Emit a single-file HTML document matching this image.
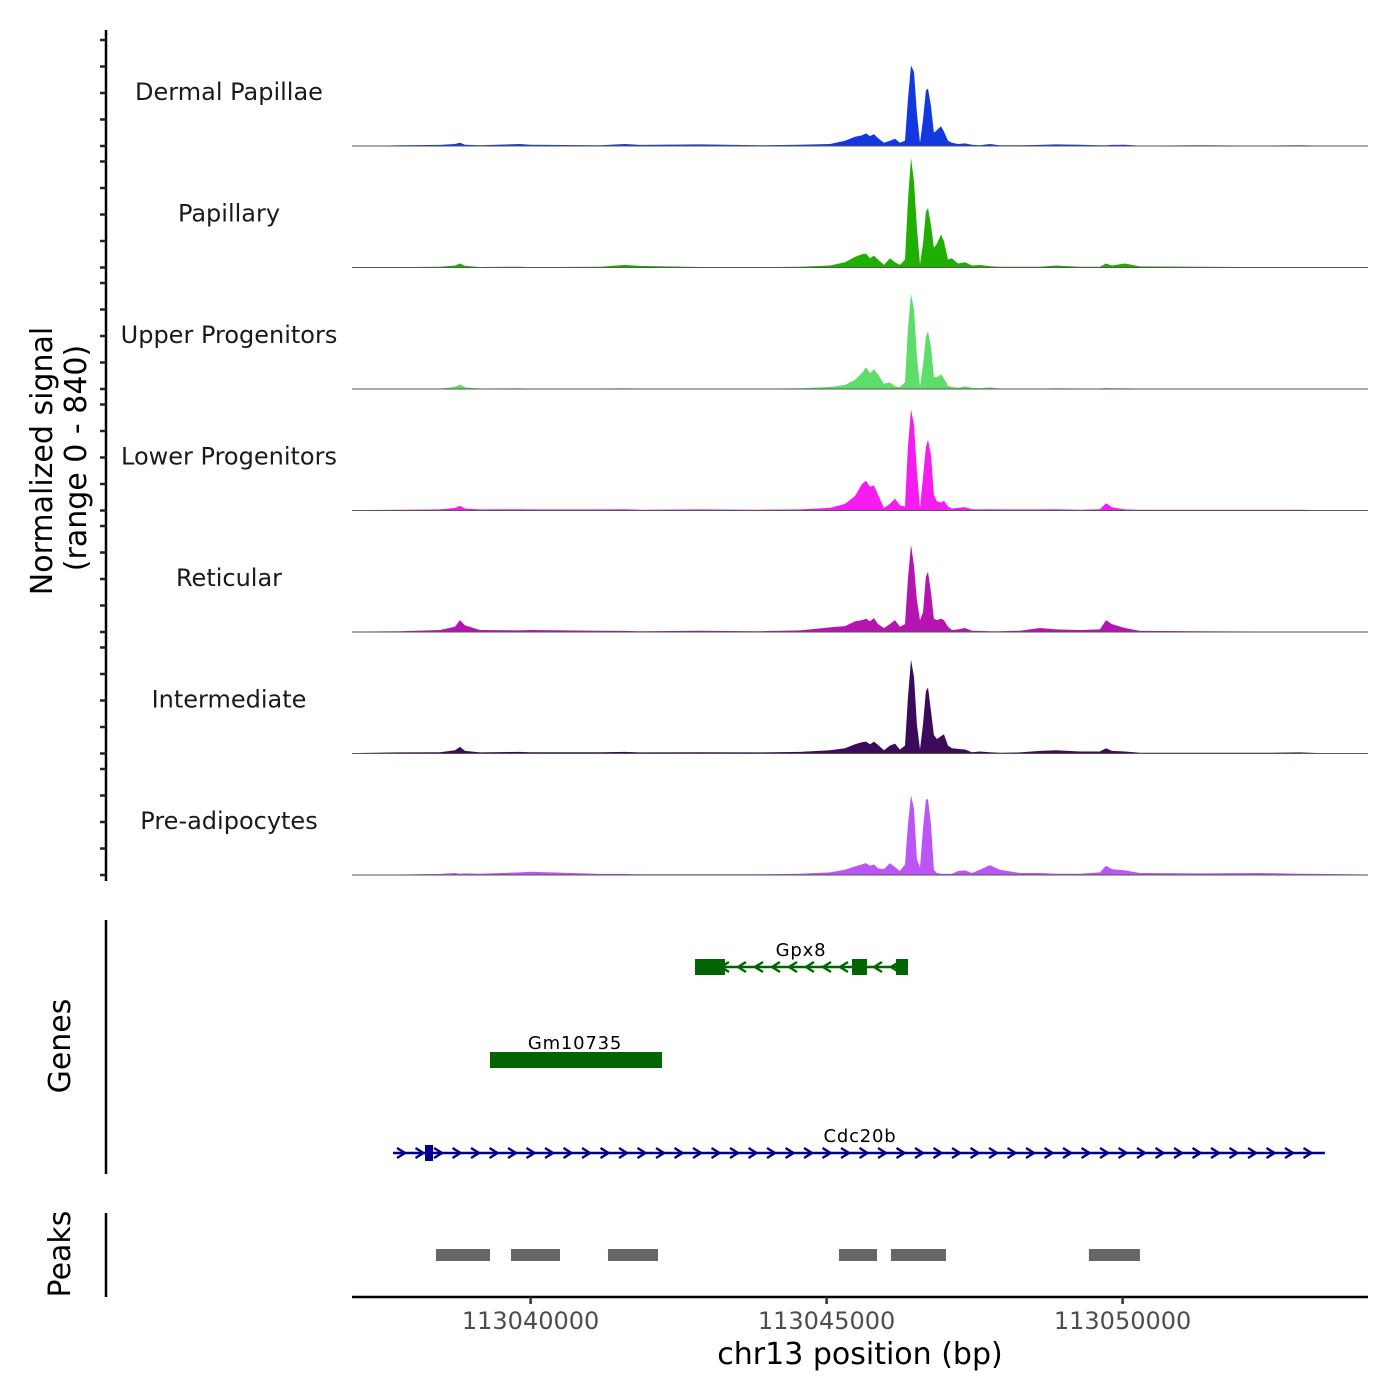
<!DOCTYPE html>
<html><head><meta charset="utf-8"><style>
html,body{margin:0;padding:0;background:#fff;}
svg{display:block;font-family:"DejaVu Sans","Liberation Sans",sans-serif;}
</style></head><body>
<svg id="chart" width="1400" height="1400" viewBox="0 0 1400 1400" xmlns="http://www.w3.org/2000/svg">
<text transform="translate(52,461) rotate(-90)" text-anchor="middle" font-size="30" fill="#000">Normalized signal</text>
<text transform="translate(86,458) rotate(-90)" text-anchor="middle" font-size="30" fill="#000">(range 0 - 840)</text>
<line x1="106" y1="30" x2="106" y2="881" stroke="#000" stroke-width="2.5"/>
<g id="tracks"></g>
<text transform="translate(70,1046) rotate(-90)" text-anchor="middle" font-size="30" fill="#000">Genes</text>
<line x1="106" y1="920" x2="106" y2="1174" stroke="#000" stroke-width="2.5"/>
<g id="genes"></g>
<text transform="translate(70,1254) rotate(-90)" text-anchor="middle" font-size="30" fill="#000">Peaks</text>
<line x1="106" y1="1213" x2="106" y2="1297" stroke="#000" stroke-width="2.5"/>
<g id="peaks"></g>
<line x1="352" y1="1297" x2="1368" y2="1297" stroke="#000" stroke-width="2.5"/>
<g id="xticks"></g>
<text x="860" y="1364" text-anchor="middle" font-size="30" fill="#000">chr13 position (bp)</text>
</svg>
<script>
const regionStart = 113036983;
const regionEnd = 113054144;
const xTickValues = [113040000, 113045000, 113050000];
const trackNames = ["Dermal Papillae","Papillary","Upper Progenitors","Lower Progenitors","Reticular","Intermediate","Pre-adipocytes"];
const trackColors = ["#1438e0","#1faf00","#5ddd6a","#f41cf0","#b514b0","#3c0a5a","#bb55f5"];
const signalMax = 840;
const positions = [113036983,113037794,113038470,113038723,113038808,113038892,113039145,113039821,113039990,113041172,113041594,113041848,113042861,113043875,113044550,113045057,113045310,113045479,113045597,113045665,113045733,113045800,113045868,113045969,113046070,113046155,113046239,113046324,113046374,113046425,113046476,113046526,113046577,113046628,113046678,113046712,113046763,113046813,113046864,113046932,113046982,113047050,113047117,113047219,113047337,113047455,113047590,113047759,113047928,113048266,113048604,113048874,113049279,113049617,113049719,113049820,113050039,113050293,113051306,113052320,113052995,113053333,113054144];
const sigDermalPapillae = [0,5,8,15,25,10,5,15,10,5,15,8,12,5,10,15,40,70,80,95,75,90,60,25,40,55,25,40,350,610,560,250,25,200,420,435,300,100,120,150,110,40,25,15,20,10,5,15,5,5,8,12,10,5,5,8,10,3,5,3,5,3,2];
const sigPapillary = [2,3,5,15,30,12,4,6,3,5,20,12,4,3,6,15,40,80,100,105,70,90,60,20,70,40,20,60,500,830,650,300,25,180,420,450,320,150,180,250,200,60,70,30,40,15,20,10,5,5,5,15,5,5,30,15,30,8,5,3,4,3,2];
const sigUpperProgenitors = [1,2,4,15,35,12,4,5,3,4,5,3,4,3,5,15,30,70,120,165,120,150,110,40,50,20,15,50,450,720,600,250,20,180,400,435,320,90,90,110,80,25,15,10,20,8,5,12,4,3,3,6,4,3,8,5,5,3,3,2,2,2,1];
const sigLowerProgenitors = [3,6,8,20,35,15,8,10,8,8,10,6,8,6,8,20,50,110,200,225,180,190,120,20,50,90,40,30,480,765,650,300,20,250,480,535,420,120,70,60,75,30,15,20,25,10,8,10,8,8,8,10,6,10,55,25,8,6,5,5,5,3,2];
const sigReticular = [3,6,15,40,90,50,15,12,15,10,8,6,10,6,12,35,45,80,90,100,80,105,60,30,60,90,40,60,400,660,500,240,90,150,420,455,300,100,90,100,90,40,15,20,30,10,8,6,5,10,30,20,15,20,90,60,30,8,5,4,3,3,2];
const sigIntermediate = [3,8,10,25,50,20,8,12,10,10,12,8,10,8,12,25,40,70,85,90,70,90,65,25,60,75,30,60,420,710,580,220,30,220,470,500,320,140,110,130,145,60,40,35,30,10,15,10,5,8,20,25,15,15,40,20,15,6,5,5,8,3,2];
const sigPreAdipocytes = [2,4,8,15,10,12,10,20,25,8,8,5,6,5,10,20,40,65,80,90,70,80,50,45,90,60,30,80,380,605,500,120,60,350,570,575,380,40,15,10,8,10,8,30,35,15,40,75,40,15,15,10,10,20,70,45,35,15,12,15,10,8,4];
const signals = [sigDermalPapillae,sigPapillary,sigUpperProgenitors,sigLowerProgenitors,sigReticular,sigIntermediate,sigPreAdipocytes];
const geneNames = ["Gpx8","Gm10735","Cdc20b"];
const geneStarts = [113042777,113039314,113037676];
const geneEnds = [113046374,113042219,113053417];
const geneStrands = [-1,1,1];
const geneColors = ["#006400","#006400","#00008b"];
const gpx8Exons = [[113042777,113043283],[113045429,113045682],[113046171,113046374]];
const gm10735Exons = [[113039314,113042219]];
const cdc20bExons = [[113038216,113038352]];
const geneExons = [gpx8Exons,gm10735Exons,cdc20bExons];
const peakStarts = [113038402,113039669,113041307,113045209,113046087,113049431];
const peakEnds = [113039314,113040497,113042152,113045851,113047016,113050293];

const NS="http://www.w3.org/2000/svg";
const X0=352, X1=1368;
function xScale(bp){ return 530.6 + (bp-113040000)*0.0592; }
const trackStep=121.5, trackPx=111;
function yScale(v, base){ return base - v/signalMax*trackPx; }
function mk(tag, attrs, parent){ const e=document.createElementNS(NS,tag); for(const k in attrs) e.setAttribute(k, attrs[k]); parent.appendChild(e); return e; }

const tg=document.getElementById('tracks');
signals.forEach((vals,i)=>{
  const base = 146 + i*trackStep;
  const g=mk('g',{},tg);
  
  
  for(let k=0;k<5;k++){
    const t=mk('line',{x1:100,x2:106,y1:base-k*26.5,y2:base-k*26.5,stroke:'#222','stroke-width':2.5},g);
    
    
  }
  const lbl=mk('text',{x:229,y:base-46,'text-anchor':'middle','font-size':24,fill:'#1a1a1a'},g);
  lbl.textContent=trackNames[i];
  
  
  let d='M'+xScale(positions[0]).toFixed(1)+','+base;
  positions.forEach((p,j)=>{ d+=' L'+xScale(p).toFixed(1)+','+yScale(vals[j],base).toFixed(1); });
  d+=' L'+xScale(positions[positions.length-1]).toFixed(1)+','+base+' Z';
  const area=mk('path',{d:d,fill:trackColors[i]},g);
  
  
  const bl=mk('line',{x1:X0,x2:X1,y1:base,y2:base,stroke:'#555','stroke-width':1},g);
  
  
});

const gg=document.getElementById('genes');
const geneY=[967,1060,1153];
geneNames.forEach((name,i)=>{
  const y=geneY[i], c=geneColors[i];
  const g=mk('g',{},gg);
  
  
  const xs=xScale(geneStarts[i]), xe=xScale(geneEnds[i]);
  mk('line',{x1:xs,x2:xe,y1:y,y2:y,stroke:c,'stroke-width':2.5},g);
  if(i!==1){
    const step = i===0?17:18.5;
    for(let x=xs+ (i===0?30:8); x<xe-3; x+=step){
      const s=geneStrands[i];
      mk('path',{d:`M${x-4*s},${y-5} L${x+4*s},${y} L${x-4*s},${y+5}`,stroke:c,'stroke-width':2.4,fill:'none'},g);
    }
  }
  geneExons[i].forEach(ex=>{
    const r=mk('rect',{x:xScale(ex[0]),y:y-8,width:xScale(ex[1])-xScale(ex[0]),height:16,fill:c},g);
    
    
  });
  const t=mk('text',{x:i===0?801:(i===1?575:860),y:y-11,'text-anchor':'middle','font-size':18,'letter-spacing':'0.8',fill:'#000'},g);
  t.textContent=name;
  
  
});

const pg=document.getElementById('peaks');
peakStarts.forEach((s,i)=>{
  const r=mk('rect',{x:xScale(s),y:1249,width:xScale(peakEnds[i])-xScale(s),height:12,fill:'#666'},pg);
  
  
});

const xt=document.getElementById('xticks');
xTickValues.forEach(v=>{
  const x=xScale(v);
  const l=mk('line',{x1:x,x2:x,y1:1297,y2:1304,stroke:'#333','stroke-width':2.5},xt);
  
  
  const t=mk('text',{x:x,y:1329,'text-anchor':'middle','font-size':24,fill:'#4d4d4d'},xt);
  t.textContent=String(v);
  
  
});
</script>
</body></html>
